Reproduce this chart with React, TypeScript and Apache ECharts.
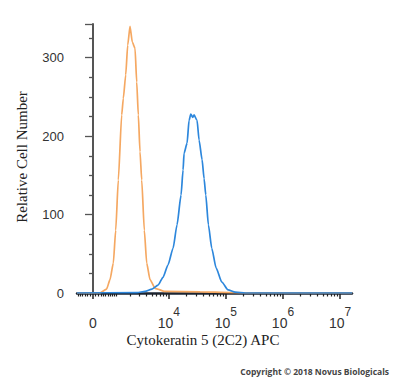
import React, { useEffect, useRef } from "react";
import * as echarts from "echarts";

// Fluorescence intensity (APC) vs relative cell count
const isotypeIntensity = [-647, 268, 540, 694, 856, 983, 1131, 1344, 1452, 1627, 1784, 1979, 2191, 2465, 2652, 2839, 3051, 3278, 3655, 4038, 4628, 5684, 8544, 35230, 118400, 397800, 16330000];
const isotypeCount = [0, 0, 5, 17, 38, 80, 144, 227, 248, 278, 316, 340, 320, 312, 269, 227, 180, 144, 80, 38, 17, 6, 2, 1.5, 0.5, 0, 0];

const ck5Intensity = [-647, 2686, 3763, 5026, 6425, 7875, 9650, 11820, 13890, 16340, 17720, 18450, 20830, 22580, 24200, 26230, 27650, 31210, 33840, 38200, 41410, 44350, 49270, 56520, 67260, 84660, 109200, 144900, 217000, 16330000];
const ck5Count = [0, 0.5, 2, 5, 10, 20, 36, 57, 87, 125, 157, 178, 191, 220, 228, 224, 227, 220, 195, 170, 146, 125, 87, 57, 32, 14, 4, 1, 0, 0];

const xMajorTicks = [0, 1e4, 1e5, 1e6, 1e7];
const xMajorLabels = ["0", "10^4", "10^5", "10^6", "10^7"];
const yTickLabels = [0, 100, 200, 300];

const W = 935;
const toD = (v: number) => Math.asinh(v / W) / Math.LN10;

const minorTickValues: number[] = [];
for (let k = 2; k <= 6; k++) {
  for (let m = 1; m <= 9; m++) {
    const v = m * Math.pow(10, k);
    if (!xMajorTicks.includes(v)) minorTickValues.push(v);
  }
}
for (let m = 1; m <= 6; m++) minorTickValues.push(-m * 100);

export default function App() {
  const ref = useRef<HTMLDivElement>(null);
  useEffect(() => {
    if (!ref.current) return;
    const chart = echarts.init(ref.current, undefined, { renderer: "svg" });
    const majorD = xMajorTicks.map(toD);
    const labelFor = (val: number) => {
      const i = majorD.findIndex((d) => Math.abs(d - val) < 1e-6);
      if (i < 0) return "";
      const s = xMajorLabels[i];
      if (s.includes("^")) {
        const [b, e] = s.split("^");
        return `{b|${b}}{s|${e}}`;
      }
      return `{b|${s}}`;
    };
    chart.setOption({
      animation: false,
      backgroundColor: "#ffffff",
      grid: { left: 77, right: 48, top: 24, bottom: 85, containLabel: false, outerBoundsMode: "none" },
      xAxis: [
        {
          type: "value",
          min: -0.28,
          max: 4.54,
          axisLine: { show: true, lineStyle: { color: "#1b2433", width: 2.5 } },
          splitLine: { show: false },
          axisTick: { show: true, customValues: majorD, length: 6, lineStyle: { color: "#222", width: 1.5 } },
          axisLabel: {
            show: true,
            customValues: majorD,
            formatter: labelFor,
            margin: 13,
            rich: {
              b: { fontFamily: "Liberation Sans", fontSize: 14, color: "#333", lineHeight: 24, verticalAlign: "bottom" },
              s: { fontFamily: "Liberation Sans", fontSize: 12, color: "#333", lineHeight: 12, verticalAlign: "top" },
            },
          },
        },
        {
          type: "value",
          min: -0.28,
          max: 4.54,
          position: "bottom",
          axisLine: { show: false },
          splitLine: { show: false },
          axisTick: { show: true, customValues: minorTickValues.map(toD), length: 3.5, lineStyle: { color: "#222", width: 1.2 } },
          axisLabel: { show: false },
        },
      ],
      yAxis: {
        type: "value",
        min: 0,
        max: 343,
        interval: 100,
        axisLine: { show: true, lineStyle: { color: "#555", width: 2 } },
        splitLine: { show: false },
        axisTick: { show: true, length: 8, lineStyle: { color: "#555", width: 1.3 } },
        minorTick: { show: true, splitNumber: 4, length: 4, lineStyle: { color: "#555", width: 1.3 } },
        axisLabel: {
          margin: 13,
          fontFamily: "Liberation Sans",
          fontSize: 13,
          color: "#333",
          formatter: (v: number) => (yTickLabels.includes(v) ? String(v) : ""),
        },
      },
      series: [
        {
          type: "line",
          data: isotypeIntensity.map((v, i) => [toD(v), isotypeCount[i]]),
          showSymbol: false,
          smooth: 0.2,
          smoothMonotone: "x",
          lineStyle: { color: "#f5a862", width: 1.7 },
          z: 2,
        },
        {
          type: "line",
          data: ck5Intensity.map((v, i) => [toD(v), ck5Count[i]]),
          showSymbol: false,
          smooth: 0.2,
          smoothMonotone: "x",
          lineStyle: { color: "#2d87dc", width: 1.7 },
          z: 3,
        },
      ],
      graphic: [
        {
          type: "text",
          x: 203,
          y: 340,
          style: {
            text: "Cytokeratin 5 (2C2) APC",
            font: '15px "Liberation Serif"',
            fill: "#222",
            textAlign: "center",
            textVerticalAlign: "middle",
          },
        },
        {
          type: "text",
          x: 22,
          y: 157,
          rotation: Math.PI / 2,
          style: {
            text: "Relative Cell Number",
            font: '15px "Liberation Serif"',
            fill: "#222",
            textAlign: "center",
            textVerticalAlign: "middle",
          },
        },
        {
          type: "text",
          x: 389,
          y: 371,
          style: {
            text: "Copyright © 2018 Novus Biologicals",
            font: 'bold 8.5px "Open Sans"',
            fill: "#444",
            textAlign: "right",
            textVerticalAlign: "middle",
          },
        },
      ],
    });
    return () => chart.dispose();
  }, []);
  return <div ref={ref} style={{ position: "fixed", left: 0, top: 0, width: 400, height: 378 }} />;
}
